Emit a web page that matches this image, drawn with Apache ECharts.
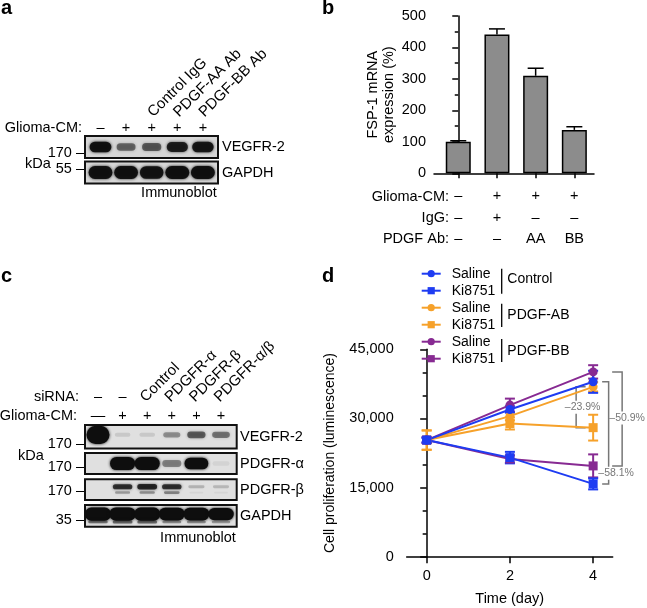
<!DOCTYPE html>
<html><head><meta charset="utf-8">
<script src="https://cdn.jsdelivr.net/npm/echarts@6/dist/echarts.min.js"></script>
<style>html,body{margin:0;padding:0;background:#fff}#c{width:647px;height:608px}</style>
</head><body><div id="c"></div>
<script>
// ---------------- DATA ----------------
// Panel a (immunoblot)
const aGlioma = ['–', '+', '+', '+', '+'];
const aHeaders = ['', '', 'Control IgG', 'PDGF-AA Ab', 'PDGF-BB Ab'];
const aRows = ['VEGFR-2', 'GAPDH'];
const aMarkers = ['170 –', '55 –'];
const aVEGFR2 = [0.95, 0.5, 0.55, 0.85, 0.9];
const aGAPDH = [0.95, 0.95, 0.92, 0.97, 0.97];
// Panel b (bar chart)
const bValues = [100, 441, 310, 138];
const bErrors = [3.5, 18, 24, 10];
const bGlioma = ['–', '+', '+', '+'];
const bIgG = ['–', '+', '–', '–'];
const bPDGF = ['–', '–', 'AA', 'BB'];
const bRowNames = ['Glioma-CM:', 'IgG:', 'PDGF Ab:'];
// Panel c (immunoblot)
const cSiRNA = ['–', '–', 'Control', 'PDGFR-α', 'PDGFR-β', 'PDGFR-α/β'];
const cGlioma = ['—', '+', '+', '+', '+', '+'];
const cRows = ['VEGFR-2', 'PDGFR-α', 'PDGFR-β', 'GAPDH'];
const cMarkers = ['170 –', '170 –', '170 –', '35 –'];
const cVEGFR2 = [2.5, 0.1, 0.1, 0.35, 0.55, 0.45];
const cPDGFRa = [0, 1.3, 1.3, 0.4, 1.1, 0.06];
const cPDGFRb = [0, 0.75, 0.8, 0.75, 0.2, 0.18];
const cPDGFRbLower = [0, 0.3, 0.35, 0.4, 0.05, 0.05];
const cGAPDH = [1.3, 1.35, 1.3, 1.25, 1.25, 1.2];
const cGAPDHLower = [0.45, 0.5, 0.5, 0.35, 0.35, 0.3];
// Panel d (proliferation)
const dDays = [0, 2, 4];
const ctrlSaline = [25300, 31950, 37950];
const ctrlSalineErr = [500, 700, 2400];
const ctrlKi = [25300, 21500, 15800];
const ctrlKiErr = [500, 1250, 1200];
const abSaline = [25300, 30500, 36850];
const abSalineErr = [2100, 900, 1000];
const abKi = [25300, 28900, 28000];
const abKiErr = [2100, 1300, 2800];
const bbSaline = [25300, 32900, 40100];
const bbSalineErr = [600, 1400, 1450];
const bbKi = [25300, 21200, 19700];
const bbKiErr = [600, 800, 2500];
const dGroups = ['Control', 'PDGF-AB', 'PDGF-BB'];
const dBracketLabels = ['–23.9%', '–50.9%', '–58.1%'];

// ---------------- STYLE ----------------
const FONT = "'Liberation Sans', Arial, Helvetica, sans-serif";
const BLUE = '#1e3cf2', ORANGE = '#f6a12a', PURPLE = '#872a92';
const GRAY = '#777777';

function band(gi, signal, ypos, w, h) {
  return {
    type: 'custom', xAxisIndex: gi, yAxisIndex: gi, silent: true, clip: true,
    data: signal.map((s, i) => [i, ypos, s]),
    renderItem(p, api) {
      const s = api.value(2);
      if (s <= 0.02) return null;
      const c = api.coord([api.value(0), api.value(1)]);
      const ww = w * Math.min(1.15, 0.75 + 0.3 * s);
      const hh = h * (0.4 + 0.7 * s);
      const a = Math.min(1, s);
      const col = 'rgba(14,14,14,' + a.toFixed(3) + ')';
      return { type: 'rect', shape: { x: c[0] - ww / 2, y: c[1] - hh / 2, width: ww, height: hh, r: hh / 2 },
        style: { fill: col, shadowBlur: 3, shadowColor: col } };
    }
  };
}

function errD(vals, errs, color) {
  return {
    type: 'custom', xAxisIndex: 7, yAxisIndex: 7, silent: true,
    data: vals.map((v, i) => [dDays[i], v, errs[i]]),
    renderItem(p, api) {
      const x = api.value(0), y = api.value(1), e = api.value(2);
      const t = api.coord([x, y + e]), b = api.coord([x, y - e]);
      const hw = 5, st = { stroke: color, lineWidth: 2 };
      return { type: 'group', children: [
        { type: 'line', shape: { x1: t[0], y1: t[1], x2: b[0], y2: b[1] }, style: st },
        { type: 'line', shape: { x1: t[0] - hw, y1: t[1], x2: t[0] + hw, y2: t[1] }, style: st },
        { type: 'line', shape: { x1: b[0] - hw, y1: b[1], x2: b[0] + hw, y2: b[1] }, style: st }
      ] };
    }
  };
}

function lineD(name, vals, color, symbol) {
  return {
    type: 'line', name: name, xAxisIndex: 7, yAxisIndex: 7,
    data: vals.map((v, i) => [dDays[i], v]),
    symbol: symbol, symbolSize: 9, showSymbol: true,
    lineStyle: { width: 2, color: color }, itemStyle: { color: color },
    emphasis: { disabled: true }, animation: false
  };
}

const blotGrid = (left, top, width, height, bg) => ({
  left, top, width, height, show: true, backgroundColor: bg, borderColor: '#111', borderWidth: 2
});
const hiddenX = (min, max, gi) => ({ type: 'value', gridIndex: gi, min, max, show: false });
const hiddenY = (gi) => ({ type: 'value', gridIndex: gi, min: 0, max: 1, inverse: true, show: false });

const axisLineStyle = { lineStyle: { color: '#000', width: 1.5 } };

const option = {
  animation: false,
  textStyle: { fontFamily: FONT },
  grid: [
    blotGrid(85, 136, 133, 22, '#d6d6d6'),
    blotGrid(85, 161.5, 133, 22, '#d6d6d6'),
    { left: 434, top: 16, width: 160, height: 157.3 },
    blotGrid(85, 425, 151.7, 23.5, '#e0e0e0'),
    blotGrid(85, 453, 151.7, 21, '#e0e0e0'),
    blotGrid(85, 479.3, 151.7, 20.7, '#e0e0e0'),
    blotGrid(85, 505, 151.7, 21.7, '#e0e0e0'),
    { left: 406.7, top: 349.3, width: 206, height: 207.4 }
  ],
  xAxis: [
    hiddenX(-0.605, 4.59, 0),
    hiddenX(-0.605, 4.59, 1),
    { type: 'value', gridIndex: 2, min: -0.627, max: 3.508,
      axisLine: axisLineStyle, splitLine: { show: false },
      axisTick: { customValues: [0, 1, 2, 3], length: 5, lineStyle: { color: '#000', width: 1.5 } },
      axisLabel: { customValues: [0, 1, 2, 3], margin: 12.5, fontSize: 14.5, color: '#000', lineHeight: 21.3,
        formatter: v => [bGlioma[v], bIgG[v], bPDGF[v]].join('\n') } },
    hiddenX(-0.528, 5.638, 3),
    hiddenX(-0.528, 5.638, 4),
    hiddenX(-0.528, 5.638, 5),
    hiddenX(-0.528, 5.638, 6),
    { type: 'value', gridIndex: 7, min: -0.48, max: 4.47,
      axisLine: axisLineStyle, splitLine: { show: false },
      axisTick: { customValues: dDays, length: 6.5, lineStyle: { color: '#000', width: 1.5 } },
      axisLabel: { customValues: dDays, margin: 12, fontSize: 14.5, color: '#000' },
      name: 'Time (day)', nameLocation: 'middle', nameGap: 35,
      nameTextStyle: { fontSize: 14.5, color: '#000' } }
  ],
  yAxis: [
    hiddenY(0), hiddenY(1),
    { type: 'value', gridIndex: 2, min: 0, max: 500, interval: 100,
      axisLine: { show: true, lineStyle: { color: '#000', width: 1.5 } }, splitLine: { show: false },
      axisTick: { show: true, length: 6, lineStyle: { color: '#000', width: 1.5 } },
      minorTick: { show: true, splitNumber: 2, length: 3.5, lineStyle: { color: '#000', width: 1.5 } },
      axisLabel: { fontSize: 14.5, color: '#000', margin: 8 },
      name: 'FSP-1 mRNA\nexpression (%)', nameLocation: 'middle', nameGap: 37,
      nameTextStyle: { fontSize: 14.5, color: '#000', lineHeight: 16 } },
    hiddenY(3), hiddenY(4), hiddenY(5), hiddenY(6),
    { type: 'value', gridIndex: 7, min: 0, max: 45000, interval: 15000,
      axisLine: { show: true, lineStyle: { color: '#000', width: 1.5 } }, splitLine: { show: false },
      axisTick: { show: true, length: 6.5, lineStyle: { color: '#000', width: 1.5 } },
      minorTick: { show: true, splitNumber: 3, length: 4, lineStyle: { color: '#000', width: 1.5 } },
      axisLabel: { fontSize: 14.5, color: '#000', margin: 13, formatter: v => v.toLocaleString('en-US') },
      name: 'Cell proliferation (luminescence)', nameLocation: 'middle', nameGap: 69,
      nameTextStyle: { fontSize: 14, color: '#000', lineHeight: 16 } }
  ],
  legend: {
    data: ['Saline|Control', 'Ki8751|Control', 'Saline|PDGF-AB', 'Ki8751|PDGF-AB', 'Saline|PDGF-BB', 'Ki8751|PDGF-BB'],
    orient: 'vertical', left: 420.7, top: 266.7, padding: 0,
    itemWidth: 19, itemHeight: 9, itemGap: 3, selectedMode: false,
    formatter: n => n.split('|')[0],
    textStyle: { fontSize: 14, color: '#000', lineHeight: 14, padding: [0, 0, 0, 6], fontFamily: FONT }
  },
  series: [
    // panel a bands
    band(0, aVEGFR2, 0.5, 21, 10),
    band(1, aGAPDH, 0.5, 23, 12),
    // panel b
    { type: 'bar', xAxisIndex: 2, yAxisIndex: 2, barWidth: 25, silent: true,
      data: bValues.map((v, i) => [i, v]),
      itemStyle: { color: '#8c8c8c', borderColor: '#000', borderWidth: 1.5 } },
    { type: 'custom', xAxisIndex: 2, yAxisIndex: 2, silent: true,
      data: bValues.map((v, i) => [i, v, bErrors[i]]),
      renderItem(p, api) {
        const b = api.coord([api.value(0), api.value(1)]);
        const t = api.coord([api.value(0), api.value(1) + api.value(2)]);
        const st = { stroke: '#000', lineWidth: 1.5 };
        return { type: 'group', children: [
          { type: 'line', shape: { x1: b[0], y1: b[1], x2: t[0], y2: t[1] }, style: st },
          { type: 'line', shape: { x1: t[0] - 8, y1: t[1], x2: t[0] + 8, y2: t[1] }, style: st }
        ] };
      } },
    // panel c bands
    band(3, cVEGFR2, 0.42, 20, 8.5),
    band(4, cPDGFRa, 0.5, 22, 10),
    band(5, cPDGFRb, 0.36, 20, 5.5),
    band(5, cPDGFRbLower, 0.64, 18, 4),
    band(6, cGAPDH, 0.42, 23, 10),
    band(6, cGAPDHLower, 0.78, 22, 4),
    // panel d
    errD(abSaline, abSalineErr, ORANGE), lineD('Saline|PDGF-AB', abSaline, ORANGE, 'circle'),
    errD(abKi, abKiErr, ORANGE), lineD('Ki8751|PDGF-AB', abKi, ORANGE, 'rect'),
    errD(bbSaline, bbSalineErr, PURPLE), lineD('Saline|PDGF-BB', bbSaline, PURPLE, 'circle'),
    errD(bbKi, bbKiErr, PURPLE), lineD('Ki8751|PDGF-BB', bbKi, PURPLE, 'rect'),
    errD(ctrlSaline, ctrlSalineErr, BLUE), lineD('Saline|Control', ctrlSaline, BLUE, 'circle'),
    errD(ctrlKi, ctrlKiErr, BLUE), lineD('Ki8751|Control', ctrlKi, BLUE, 'rect'),
    // brackets in panel d
    { type: 'custom', xAxisIndex: 7, yAxisIndex: 7, silent: true, clip: false,
      data: [
        [4, abSaline[2], abKi[2], -17, -7.5, -10.5, 0.5, 0],
        [4, bbSaline[2], bbKi[2], 29, 19, 34, 0.49, 1],
        [4, ctrlSaline[2], ctrlKi[2], 15.5, 9, 23, 0.895, 2]
      ],
      renderItem(p, api) {
        const top = api.coord([api.value(0), api.value(1)]);
        const bot = api.coord([api.value(0), api.value(2)]);
        const xv = top[0] + api.value(3), xe = top[0] + api.value(4), xl = top[0] + api.value(5);
        const yl = top[1] + (bot[1] - top[1]) * api.value(6);
        const gap = 6.5;
        const st = { stroke: GRAY, lineWidth: 1.5 };
        return { type: 'group', children: [
          { type: 'polyline', shape: { points: [[xe, top[1]], [xv, top[1]], [xv, yl - gap]] }, style: Object.assign({ fill: null }, st) },
          { type: 'polyline', shape: { points: [[xv, yl + gap], [xv, bot[1]], [xe, bot[1]]] }, style: Object.assign({ fill: null }, st) },
          { type: 'text', style: { text: dBracketLabels[api.value(7)], x: xl, y: yl, align: 'center', verticalAlign: 'middle',
            fill: GRAY, font: '10.5px ' + FONT } }
        ] };
      } }
  ]
};

const chart = echarts.init(document.getElementById('c'), null, { renderer: 'canvas' });
chart.setOption(option);

// ---------------- TEXT ANNOTATIONS ----------------
const px = (gi, x, y) => chart.convertToPixel({ gridIndex: gi }, [x, y]);
const T = (text, x, y, align, extra) => Object.assign({
  type: 'text', x: x, y: y, silent: true,
  style: Object.assign({ text: text, align: align || 'left', verticalAlign: 'middle', fill: '#000', font: '14.5px ' + FONT }, (extra && extra.style) || {})
}, extra && extra.rotation !== undefined ? { rotation: extra.rotation } : {});
const G = [];
const bold = { style: { font: 'bold 20px ' + FONT } };
const rot = { rotation: Math.PI / 4, style: { verticalAlign: 'bottom', font: '15px ' + FONT } };
G.push(T('a', 1, 8, 'left', bold), T('b', 322, 8, 'left', bold), T('c', 1, 276, 'left', bold), T('d', 322, 276, 'left', bold));

// panel a
G.push(T('Glioma-CM:', 82, 128, 'right'));
aGlioma.forEach((s, k) => G.push(T(s, px(0, k, 0.5)[0], 128, 'center')));
aHeaders.forEach((s, k) => { if (s) G.push(T(s, px(0, k, 0.5)[0] + 4, 120, 'left', rot)); });
aRows.forEach((s, r) => G.push(T(s, 222, px(r, 0, 0.5)[1], 'left')));
G.push(T(aMarkers[0], 84, 153.3, 'right'), T(aMarkers[1], 84, 169.3, 'right'), T('kDa', 25, 164, 'left'));
G.push(T('Immunoblot', 179, 193, 'center'));

// panel b rows
bRowNames.forEach((s, r) => G.push(T(s, 449, 196.7 + r * 21.3, 'right')));

// panel c
G.push(T('siRNA:', 79, 397.3, 'right'), T('Glioma-CM:', 77, 416, 'right'));
cSiRNA.forEach((s, k) => {
  const x = px(3, k, 0.5)[0];
  if (k < 2) G.push(T(s, x, 397.3, 'center'));
  else G.push(T(s, x + 1, 405, 'left', rot));
});
cGlioma.forEach((s, k) => G.push(T(s, px(3, k, 0.5)[0], 416, 'center')));
cRows.forEach((s, r) => G.push(T(s, 240, px(3 + r, 0, 0.5)[1], 'left')));
[444, 466.7, 491, 520].forEach((y, r) => G.push(T(cMarkers[r], 84, y, 'right')));
G.push(T('kDa', 18, 455.7, 'left'), T('Immunoblot', 198, 538.3, 'center'));

// panel d legend groups
const groupBars = [[268.7, 293.7], [303.7, 327], [339, 362]];
const groupLabelY = [278.7, 315.3, 351.3];
dGroups.forEach((g, gi) => {
  G.push({ type: 'line', silent: true, shape: { x1: 501.7, y1: groupBars[gi][0], x2: 501.7, y2: groupBars[gi][1] }, style: { stroke: '#000', lineWidth: 1.3 } });
  G.push(T(g, 507.3, groupLabelY[gi], 'left', { style: { font: '14px ' + FONT } }));
});

chart.setOption({ graphic: { elements: G } });
</script>
</body></html>
